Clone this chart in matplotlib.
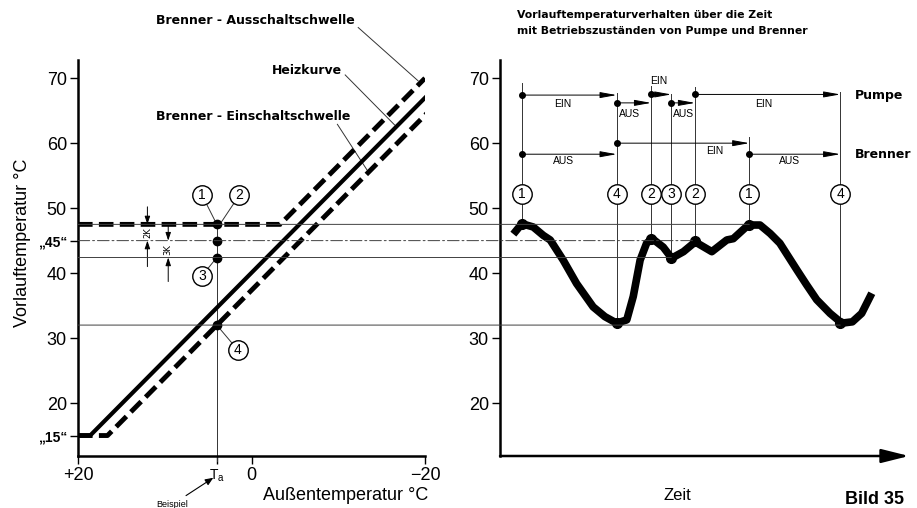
import matplotlib.pyplot as plt
from matplotlib.patches import ConnectionPatch

plt.rcParams['font.family'] = ['Liberation Sans', 'DejaVu Sans']
BOLD = ['DejaVu Sans']

# --- linkes Bild: Heizkurve ueber Aussentemperatur ---
heiz_x = [20, 18.6, -21.2]
heiz_y = [15, 15, 68.6]
aus_x = [20, -3.3, -20.0]          # Brenner-Ausschaltschwelle
aus_y = [47.5, 47.5, 70.0]
ein_x = [20, 16.6, -22.3]          # Brenner-Einschaltschwelle
ein_y = [15, 15, 67.4]

ta = 4.0
stufen = [47.5, 45, 42.4, 32]      # Punkte 1, 2, 3, 4 bei Ta
kreis_lab = ['1', '2', '3', '4']
kreis_x = [5.7, 1.4, 5.7, 1.6]
kreis_y = [52, 52, 39.6, 28.2]
ziel_x = [4.0, 3.55, 4.0, 4.0]
ziel_y = [47.5, 47.7, 42.4, 32]

# --- rechtes Bild: Vorlauftemperatur ueber Zeit ---
zeit = [3.3, 5.4, 8.2, 10.7, 12.4, 15.6, 18.9, 23.0, 25.9, 28.8, 31.3, 32.9,
        34.6, 36.2, 37.6, 40.3, 42.4, 45.3, 48.2, 52.3, 56.0, 57.6, 61.3,
        64.2, 66.7, 69.1, 73.3, 75.7, 78.2, 81.5, 84.4, 87.0, 89.3, 91.8]
temp = [46.0, 47.6, 47.1, 45.8, 45.1, 42.0, 38.4, 34.8, 33.3, 32.3, 32.8,
        36.4, 42.0, 44.6, 45.3, 44.0, 42.3, 43.3, 44.8, 43.3, 45.1, 45.3,
        47.4, 47.4, 46.1, 44.6, 40.5, 38.2, 35.9, 33.8, 32.3, 32.5, 33.8,
        36.9]

ev_x = [5.36, 28.8, 37.3, 42.3, 48.15, 61.55, 84.0]
ev_lab = ['1', '4', '2', '3', '2', '1', '4']
ev_unten = [47.6, 32.3, 45.2, 42.3, 44.9, 47.4, 32.3]
ev_oben = [69.2, 67.7, 68.8, 67.6, 68.7, 61.0, 67.9]

pumpe_von = [5.36, 28.8, 37.3, 42.3, 48.15]
pumpe_bis = [28.8, 37.3, 42.3, 48.15, 84.0]
pumpe_y = [67.4, 66.2, 67.5, 66.2, 67.5]
pumpe_txt = ['EIN', 'AUS', 'EIN', 'AUS', 'EIN']
pumpe_tx = [15.6, 32.1, 39.3, 45.3, 65.2]
pumpe_ty = [66.1, 64.5, 69.6, 64.5, 66.1]

brenner_von = [5.36, 28.8, 61.55]
brenner_bis = [28.8, 61.55, 84.0]
brenner_y = [58.3, 60.0, 58.3]
brenner_txt = ['AUS', 'EIN', 'AUS']
brenner_tx = [15.6, 53.1, 71.6]
brenner_ty = [57.3, 58.8, 57.3]

# Verbindungslinien zwischen beiden Bildern
linie_y = [47.5, 45, 42.4, 32]
linie_bis = [61.55, 48.15, 42.3, 84.0]
linie_ls = ['-', (0, (12, 3, 2, 3)), '-', '-']

W, H = 917, 508
fig = plt.figure(figsize=(W / 100, H / 100), dpi=100)
axL = fig.add_axes([78 / W, 1 - 456 / H, 347 / W, 396 / H])
axR = fig.add_axes([500 / W, 1 - 456 / H, 405 / W, 396 / H])

ymin, ymax = 11.85, 72.8
for ax in (axL, axR):
    ax.set_ylim(ymin, ymax)
    for s in ('top', 'right'):
        ax.spines[s].set_visible(False)
    ax.spines['left'].set_linewidth(1.8)
    ax.spines['bottom'].set_linewidth(1.8)
    ax.tick_params(axis='y', direction='out', length=6, width=1, pad=2,
                   labelsize=13)
    ax.patch.set_alpha(0)

# linke Achsen
axL.set_xlim(20, -20)
axL.set_yticks([70, 60, 50, 45, 40, 30, 20, 15])
axL.set_yticklabels(['70', '60', '50', '„45“', '40', '30', '20', '„15“'])
for lab in axL.get_yticklabels():
    if '„' in lab.get_text():
        lab.set_fontsize(10)
        lab.set_fontweight('bold')
axL.set_xticks([20, ta, 0, -20])
axL.set_xticklabels(['+20', r'$\mathregular{T_a}$', '0', '−20'])
axL.tick_params(axis='x', direction='out', length=6, width=1, pad=2,
                labelsize=13)
axL.get_xticklabels()[1].set_fontsize(10)

axL.plot(heiz_x, heiz_y, color='black', lw=3, solid_capstyle='butt', zorder=4)
axL.plot(aus_x, aus_y, color='black', lw=3.5, dashes=(3, 1.3), zorder=4)
axL.plot(ein_x, ein_y, color='black', lw=3.5, dashes=(3, 1.3), zorder=4)

axL.plot([ta, ta], [ymin - 0.8, 47.5], color='0.2', lw=0.7, clip_on=False)
axL.plot([ta] * 4, stufen, 'o', color='black', ms=6, zorder=6)
for lab, x, y, zx, zy in zip(kreis_lab, kreis_x, kreis_y, ziel_x, ziel_y):
    axL.plot([x, zx], [y, zy], color='0.2', lw=0.7)
    axL.plot(x, y, 'o', ms=14, mfc='white', mec='black', mew=1, zorder=7)
    axL.text(x, y, lab, ha='center', va='center', fontsize=10, zorder=8)

# 2K / 3K Masspfeile
pf = dict(arrowstyle='-|>,head_length=0.6,head_width=0.2', lw=0.7,
          color='black', shrinkA=0, shrinkB=0, mutation_scale=8)
axL.annotate('', xy=(12.0, 47.5), xytext=(12.0, 50.2), arrowprops=pf)
axL.annotate('', xy=(12.0, 45), xytext=(12.0, 41.0), arrowprops=pf)
axL.text(12.0, 46.25, '2K', rotation=90, ha='center', va='center',
         fontsize=6, family=BOLD)
axL.annotate('', xy=(9.6, 45), xytext=(9.6, 47.4), arrowprops=pf)
axL.annotate('', xy=(9.6, 42.4), xytext=(9.6, 38.7), arrowprops=pf)
axL.text(9.6, 43.7, '3K', rotation=90, ha='center', va='center',
         fontsize=6, family=BOLD)

# Beschriftungen mit Hinweislinien
axL.text(11.0, 78.9, 'Brenner - Ausschaltschwelle', ha='left',
         va='center', fontsize=9, fontweight='bold', family=BOLD)
axL.plot([-12.3, -19.2], [77.8, 69.6], color='0.2', lw=0.7, clip_on=False)
axL.text(-2.4, 71.2, 'Heizkurve', ha='left', va='center', fontsize=9,
         fontweight='bold', family=BOLD)
axL.plot([-10.8, -16.5], [70.5, 62.8], color='0.2', lw=0.7)
axL.text(11.0, 64.1, 'Brenner - Einschaltschwelle', ha='left',
         va='center', fontsize=9, fontweight='bold', family=BOLD)
axL.plot([-9.9, -13.5], [62.9, 55.5], color='0.2', lw=0.7)

axL.annotate('Beispiel', xy=(4.4, 8.5), xytext=(9.1, 4.4),
             ha='center', va='center', fontsize=6.5,
             annotation_clip=False,
             arrowprops=dict(arrowstyle='-|>,head_length=0.6,head_width=0.25',
                             lw=0.8, color='black', mutation_scale=8,
                             shrinkA=2, shrinkB=0))

# Verbindungslinien ueber beide Bilder
for y, xe, ls in zip(linie_y, linie_bis, linie_ls):
    con = ConnectionPatch(xyA=(20, y), coordsA=axL.transData,
                          xyB=(xe, y), coordsB=axR.transData,
                          color='0.25', lw=0.7, linestyle=ls, zorder=1)
    fig.add_artist(con)

# rechte Achsen
axR.set_xlim(0, 100)
axR.set_yticks([70, 60, 50, 40, 30, 20])
axR.set_xticks([])
axR.spines['bottom'].set_visible(False)
axR.annotate('', xy=(101, ymin), xytext=(0, ymin), annotation_clip=False,
             arrowprops=dict(arrowstyle='-|>,head_length=1.2,head_width=0.3',
                             lw=1.8, color='black', shrinkA=0, shrinkB=0,
                             mutation_scale=14))

axR.plot(zeit, temp, color='black', lw=5.5, solid_joinstyle='round',
         solid_capstyle='butt', zorder=5)
axR.plot(ev_x, ev_unten, 'o', color='black', ms=7, zorder=6)

for x, lab, yu, yo in zip(ev_x, ev_lab, ev_unten, ev_oben):
    axR.plot([x, x], [yu, yo], color='0.2', lw=0.7, zorder=2)
    axR.plot(x, 52.1, 'o', ms=14, mfc='white', mec='black', mew=1, zorder=7)
    axR.text(x, 52.1, lab, ha='center', va='center', fontsize=10, zorder=8)

zp = dict(arrowstyle='-|>,head_length=1.0,head_width=0.18', lw=0.7,
          color='black', shrinkA=0, shrinkB=0, mutation_scale=10)
for x0, x1, y, t, tx, ty in zip(pumpe_von, pumpe_bis, pumpe_y, pumpe_txt,
                                pumpe_tx, pumpe_ty):
    axR.annotate('', xy=(x1, y), xytext=(x0, y), arrowprops=zp)
    axR.plot(x0, y, 'o', color='black', ms=4)
    axR.text(tx, ty, t, ha='center', va='center', fontsize=7.5)
for x0, x1, y, t, tx, ty in zip(brenner_von, brenner_bis, brenner_y,
                                brenner_txt, brenner_tx, brenner_ty):
    axR.annotate('', xy=(x1, y), xytext=(x0, y), arrowprops=zp)
    axR.plot(x0, y, 'o', color='black', ms=4)
    axR.text(tx, ty, t, ha='center', va='center', fontsize=7.5)

axR.text(87.7, 67.3, 'Pumpe', ha='left', va='center', fontsize=9,
         fontweight='bold', family=BOLD, clip_on=False)
axR.text(87.7, 58.3, 'Brenner', ha='left', va='center', fontsize=9,
         fontweight='bold', family=BOLD, clip_on=False)

# Texte der Abbildung
fig.text(517 / W, 1 - 15 / H, 'Vorlauftemperaturverhalten über die Zeit',
         ha='left', va='center', fontsize=7.8, fontweight='bold', family=BOLD)
fig.text(517 / W, 1 - 31 / H, 'mit Betriebszuständen von Pumpe und Brenner',
         ha='left', va='center', fontsize=7.8, fontweight='bold', family=BOLD)
fig.text(23 / W, 1 - 243 / H, 'Vorlauftemperatur °C', rotation=90,
         ha='center', va='center', fontsize=13)
fig.text(346 / W, 1 - 495 / H, 'Außentemperatur °C', ha='center',
         va='center', fontsize=13)
fig.text(677 / W, 1 - 495 / H, 'Zeit', ha='center', va='center', fontsize=12)
fig.text(904 / W, 1 - 499 / H, 'Bild 35', ha='right', va='center',
         fontsize=13, fontweight='bold')

fig.savefig('out.png', dpi=100)
